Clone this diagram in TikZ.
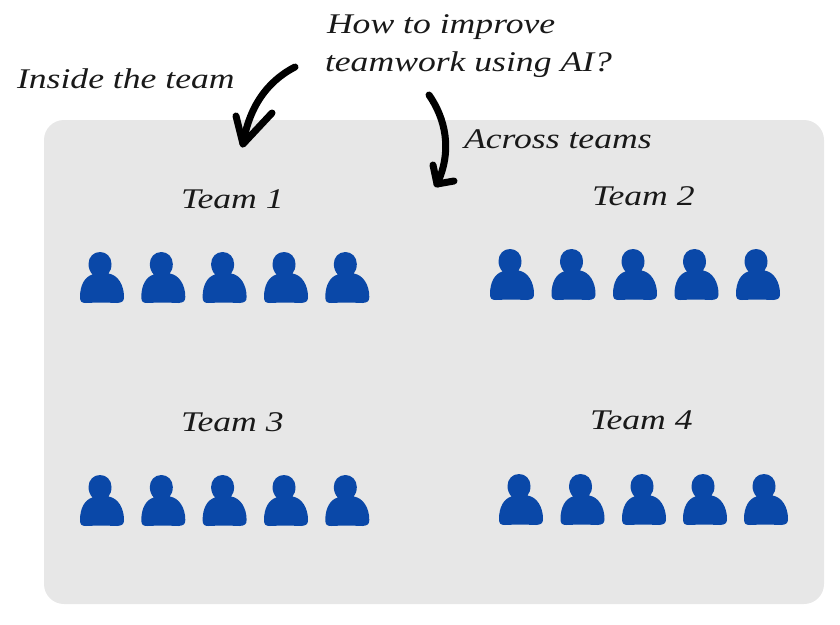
\documentclass[tikz,border=0pt]{standalone}
\usepackage{fontspec}
\newfontfamily\hand[FakeStretch=1.25]{Liberation Serif}
\definecolor{panelgray}{HTML}{E7E7E7}
\definecolor{personblue}{HTML}{0A48A8}
\tikzset{x=1pt,y=-1pt,
  lbl/.style={anchor=base west,inner sep=0pt,outer sep=0pt,font=\hand\itshape\fontsize{28.5}{32}\selectfont,text=black!90},
  hand arrow/.style={line width=7pt,line cap=round,line join=round,black},
  panel/.style={fill=panelgray,draw=none,rounded corners=20pt},
  person/.pic={\fill[personblue]
    (12.5,22.5) .. controls (10,20) and (8.5,16) .. (8.5,12)
    .. controls (8.5,5) and (13.5,0) .. (20,0)
    .. controls (26.5,0) and (31.5,5) .. (31.5,12)
    .. controls (31.5,16) and (30.5,19) .. (28.5,21.5)
    .. controls (38,23) and (44,33) .. (44,45)
    .. controls (44,49.5) and (42,50.5) .. (37,51)
    .. controls (28,50.5) and (14,50.5) .. (6,51)
    .. controls (1.5,51) and (0,49.5) .. (0,45)
    .. controls (0,33) and (5,24.5) .. (12.5,22.5) -- cycle;}}
\begin{document}
\begin{tikzpicture}
\useasboundingbox (0,0) rectangle (840,624);
\path[panel] (44,120) rectangle (824,604);
\foreach \x in {80,141.3,202.6,264,325.3}{
  \pic at (\x,252) {person};
  \pic at (\x,475) {person};}
\foreach \x in {490,551.5,613,674.5,736}{\pic at (\x,249) {person};}
\foreach \x in {499,560.5,622,683,744}{\pic at (\x,474) {person};}
\node[lbl] (q1) at (327,33) {How to improve};
\node[lbl] (q2) at (325,71) {teamwork using AI?};
\node[lbl] (inside) at (17,88) {Inside the team};
\node[lbl] (across) at (464,148) {Across teams};
\node[lbl] (t1) at (181,208) {Team 1};
\node[lbl] (t2) at (592,205) {Team 2};
\node[lbl] (t3) at (181,431) {Team 3};
\node[lbl] (t4) at (590,429) {Team 4};
\coordinate (a1s) at (295,67);
\coordinate (a1e) at (243,144);
\coordinate (a1l) at (236,116);
\coordinate (a1r) at (272,113);
\coordinate (a2s) at (429,95);
\coordinate (a2e) at (437,184);
\coordinate (a2l) at (433,165);
\coordinate (a2r) at (454,181);
\draw[hand arrow] (a1s) .. controls (266,82) and (249,108) .. (a1e);
\draw[hand arrow] (a1l) -- (a1e) -- (a1r);
\draw[hand arrow] (a2s) .. controls (445,118) and (453,150) .. (a2e);
\draw[hand arrow] (a2l) -- (a2e) -- (a2r);
\end{tikzpicture}
\end{document}
